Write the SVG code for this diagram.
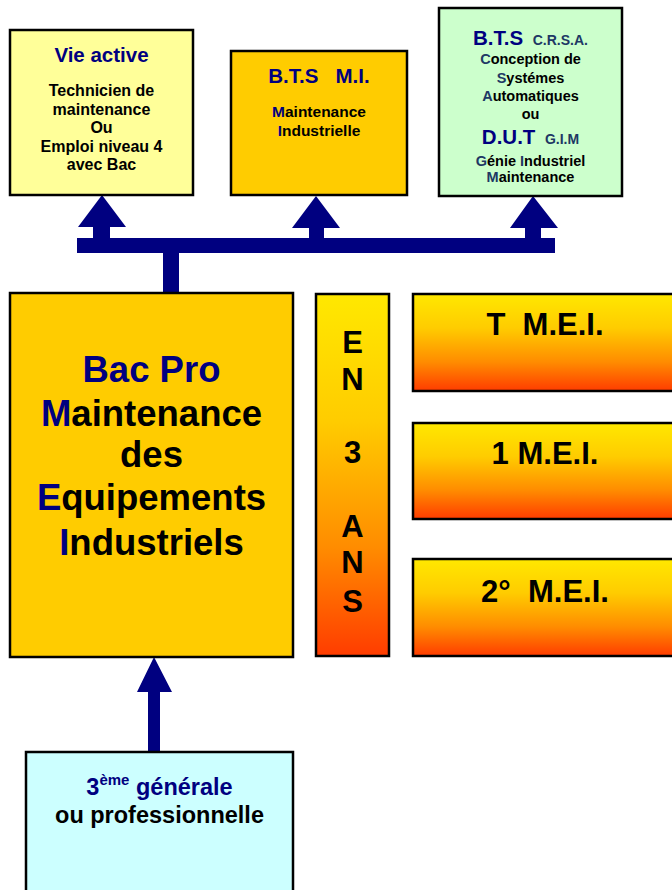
<svg xmlns="http://www.w3.org/2000/svg" width="672" height="890" viewBox="0 0 672 890">
<defs>
<linearGradient id="grad" x1="0" y1="0" x2="0" y2="1">
<stop offset="0" stop-color="#FFE800"/>
<stop offset="0.35" stop-color="#FFCC00"/>
<stop offset="0.7" stop-color="#FF8C00"/>
<stop offset="1" stop-color="#FF3C00"/>
</linearGradient>
<style>
.box{stroke:#000;stroke-width:2.5}
text{font-family:"Liberation Sans",Arial,sans-serif;font-weight:bold;text-anchor:middle;fill:#000}
.nv{fill:#000080}
.sl{fill:#203864}
.conn{fill:#000080}
</style>
</defs>
<rect width="672" height="890" fill="#fff"/>

<g id="connectors" class="conn">
<rect x="77" y="238" width="478" height="15"/>
<rect x="163" y="252" width="16" height="42"/>
<polygon points="102,195 126,227 110,227 110,239 93,239 93,227 78,227"/>
<polygon points="316,196 340,228 324,228 324,239 309,239 309,228 292,228"/>
<polygon points="533,196 558,228 541,228 541,239 525,239 525,228 510,228"/>
<polygon points="154,657 172,692 160,692 160,753 148,753 148,692 137,692"/>
</g>

<g id="vie-active">
<rect class="box" x="10" y="30" width="183" height="165" fill="#FFFF99"/>
<text x="101.5" y="62" font-size="20.5" class="nv">Vie active</text>
<text x="101.5" font-size="16"><tspan x="101.5" y="96">Technicien de</tspan><tspan x="101.5" y="114.5">maintenance</tspan><tspan x="101.5" y="133">Ou</tspan><tspan x="101.5" y="151.5">Emploi niveau 4</tspan><tspan x="101.5" y="170">avec Bac</tspan></text>
</g>

<g id="bts-mi">
<rect class="box" x="231" y="51" width="176" height="144" fill="#FFCC00"/>
<text x="319" y="83" font-size="20.5" class="nv">B.T.S&#160;&#160;&#160;M.I.</text>
<text font-size="15.5"><tspan x="319" y="117"><tspan class="nv">M</tspan>aintenance</tspan><tspan x="319" y="136"><tspan class="nv">I</tspan>ndustrielle</tspan></text>
</g>

<g id="bts-crsa">
<rect class="box" x="439" y="8" width="183" height="188" fill="#CCFFCC"/>
<text x="530.5" y="45"><tspan class="nv" font-size="20.5">B.T.S&#160;</tspan><tspan class="sl" font-size="14">&#160;C.R.S.A.</tspan></text>
<text font-size="14.5"><tspan x="530.5" y="64"><tspan class="sl">C</tspan>onception de</tspan><tspan x="530.5" y="82.5"><tspan class="sl">S</tspan>ystémes</tspan><tspan x="530.5" y="101"><tspan class="sl">A</tspan>utomatiques</tspan><tspan x="530.5" y="119">ou</tspan></text>
<text x="530.5" y="144"><tspan class="nv" font-size="20.5">D.U.T&#160;</tspan><tspan class="sl" font-size="14">&#160;G.I.M</tspan></text>
<text font-size="14.5"><tspan x="530.5" y="166"><tspan class="sl">G</tspan>énie <tspan class="sl">I</tspan>ndustriel</tspan><tspan x="530.5" y="181.5"><tspan class="sl">M</tspan>aintenance</tspan></text>
</g>

<g id="bac-pro">
<rect class="box" x="10" y="293" width="283" height="364" fill="#FFCC00"/>
<text font-size="36.5"><tspan x="151.5" y="382" class="nv">Bac Pro</tspan><tspan x="151.5" y="426"><tspan class="nv">M</tspan>aintenance</tspan><tspan x="151.5" y="467">des</tspan><tspan x="151.5" y="510"><tspan class="nv">E</tspan>quipements</tspan><tspan x="151.5" y="555"><tspan class="nv">I</tspan>ndustriels</tspan></text>
</g>

<g id="en-3-ans">
<rect class="box" x="316" y="294" width="73" height="362" fill="url(#grad)"/>
<text font-size="31"><tspan x="352.5" y="353">E</tspan><tspan x="352.5" y="390">N</tspan><tspan x="352.5" y="463">3</tspan><tspan x="352.5" y="537">A</tspan><tspan x="352.5" y="573">N</tspan><tspan x="352.5" y="612">S</tspan></text>
</g>

<g id="t-mei">
<rect class="box" x="413" y="294" width="270" height="97" fill="url(#grad)"/>
<text x="545" y="335" font-size="31">T&#160;&#160;M.E.I.</text>
</g>

<g id="1-mei">
<rect class="box" x="413" y="423" width="270" height="96" fill="url(#grad)"/>
<text x="545" y="464" font-size="31">1 M.E.I.</text>
</g>

<g id="2-mei">
<rect class="box" x="413" y="559" width="270" height="97" fill="url(#grad)"/>
<text x="545" y="602" font-size="31">2°&#160;&#160;M.E.I.</text>
</g>

<g id="troisieme">
<rect class="box" x="26" y="752" width="267" height="150" fill="#CCFFFF"/>
<text x="159.5" y="795" font-size="23.5" class="nv">3<tspan font-size="15" dy="-10">ème</tspan><tspan dy="10"> générale</tspan></text>
<text x="159.5" y="823" font-size="23.5">ou professionnelle</text>
</g>
</svg>
